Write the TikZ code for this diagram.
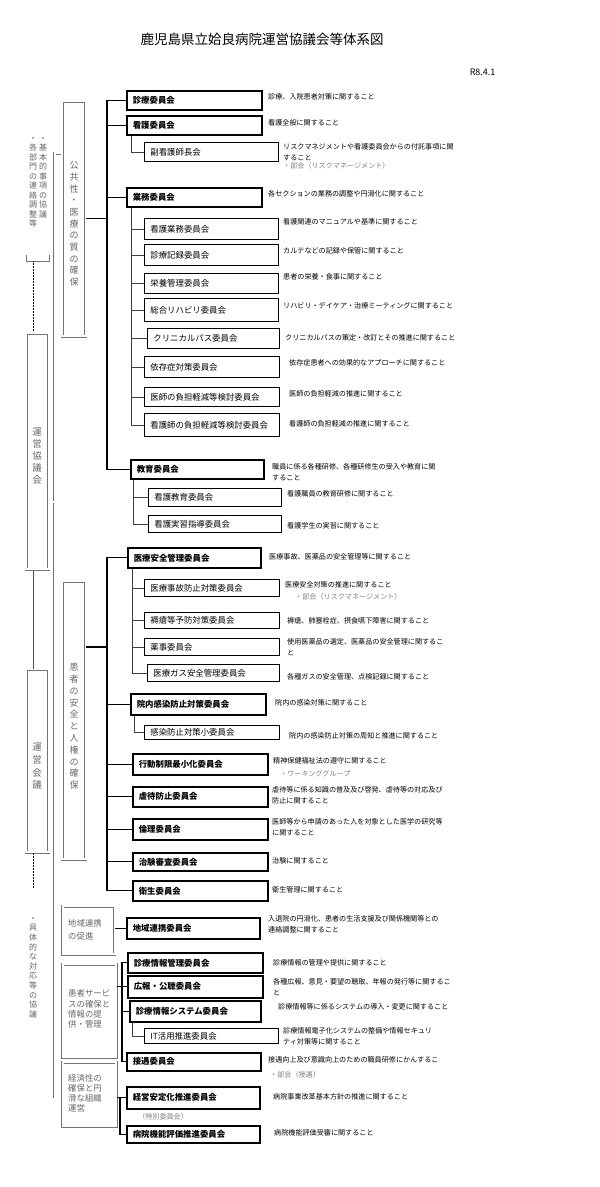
\documentclass[tikz,border=0pt]{standalone}
\usepackage{fontspec}
\setmainfont{Noto Sans CJK JP}
\newcommand\myvs{\rule[-0.12em]{0pt}{1em}}
\newcommand\myvtext[1]{\vbox{\myvtextA#1\relax}}
\def\myvtextA#1{\ifx#1\relax\else\hbox to 1em{\hss\myvs#1\hss}\expandafter\myvtextA\fi}
\newcommand\lab{\fontsize{8.4}{10}\selectfont}
\newcommand\bx[7]{\node[#1, minimum width=#5pt-#3pt, minimum height=#6pt-#4pt] (#2) at (#3,#4) {\makebox[\dimexpr#5pt-#3pt-12pt\relax][l]{#7}};}
\newcommand\ds[4]{\node[desc] (#1) at (#2,#3-3.5) {\myvs#4};}
\newcommand\nt[4]{\node[note] (#1) at (#2,#3-3.5) {\myvs#4};}
\tikzset{
 bbox/.style={draw, line width=1.6pt, inner xsep=6pt, inner ysep=0pt, font=\lab\bfseries, anchor=north west},
 tbox/.style={draw, line width=0.8pt, inner xsep=5pt, inner ysep=0pt, font=\lab, anchor=north west},
 desc/.style={anchor=north west, inner sep=0pt, align=left, font=\fontsize{7.1}{10.5}\selectfont},
 note/.style={desc, text=black!50},
 bus/.style={line width=1.3pt},
 sub/.style={line width=0.7pt, draw=black!75},
 dbl/.style={draw=black!55, line width=0.5pt, double=white, double distance=1.7pt},
 gbox/.style={dbl, anchor=north west, inner sep=0pt},
 vlab/.style={inner sep=0pt, anchor=north, text=black!60},
 hlab/.style={inner sep=0pt, anchor=north west, align=left, text=black!60},
}
\begin{document}
\begin{tikzpicture}[x=1pt,y=-1pt]
\useasboundingbox (0,0) rectangle (600,1187);
\fill[white] (0,0) rectangle (600,1187);

% title
\node[font=\fontsize{13.5}{13.5}\selectfont] (title) at (262,39) {鹿児島県立姶良病院運営協議会等体系図};
\node[anchor=east, font=\fontsize{9}{9}\selectfont] (date) at (499,72) {R8.4.1};

% ---------- left column ----------
\node[vlab, font=\fontsize{8}{9.5}\selectfont] (kA) at (43,134) {\myvtext{・基本的事項の協議}};
\node[vlab, font=\fontsize{8}{9.5}\selectfont] (kB) at (33,134) {\myvtext{・各部門の連絡調整等}};
\draw[black!55, line width=0.6pt] (26,255) -- (26,261) -- (49,261) -- (49,255);
\coordinate (brk) at (33,261);

\node[gbox, minimum width=22.5pt, minimum height=236pt] (unk) at (26,333) {};
\node[vlab, font=\fontsize{9.5}{12}\selectfont] (unkT) at (37,427.2) {\myvtext{運営協議会}};
\node[gbox, minimum width=22.5pt, minimum height=183pt] (unk2) at (26,669) {};
\node[vlab, font=\fontsize{9.5}{12.7}\selectfont] (unk2T) at (37,742.2) {\myvtext{運営会議}};
\coordinate (dotEnd) at (33,888);
\node[vlab, font=\fontsize{8}{9.6}\selectfont] (gutai) at (33,914) {\myvtext{・具体的な対応等の協議}};

\draw[densely dotted, line width=0.5pt] (brk) -- (brk |- unk.north);
\draw[line width=0.6pt, black!70] (unk.south -| brk) -- (unk2.north -| brk);
\draw[densely dotted, line width=0.5pt] (unk2.south -| brk) -- (dotEnd);

% ---------- spine ----------
\coordinate (spT) at (54.7,153.3);
\coordinate (spB) at (54.7,1097);
\coordinate (j1) at (54.7,502);
\coordinate (j2) at (54.7,652);
\coordinate (j3) at (54.7,937);
\coordinate (j4) at (54.7,1002);

% group boxes (positions)
\node[gbox, minimum width=23.5pt, minimum height=235pt] (gA) at (62,101) {};
\node[gbox, minimum width=23.5pt, minimum height=278pt] (gB) at (62,581) {};
\node[gbox, minimum width=52pt, minimum height=48pt] (gC) at (62.5,906) {};
\node[gbox, minimum width=53.5pt, minimum height=93pt] (gD) at (62.5,964) {};
\node[gbox, minimum width=53.5pt, minimum height=64pt] (gE) at (62.5,1062) {};

\draw[dbl] (gA.west |- spT) -- (spT) -- (spB) -- (gE.west |- spB);
\draw[dbl] (unk.east |- j1) -- ([xshift=-0.85pt]j1);
\draw[dbl] ([xshift=0.85pt]j2) -- (gB.west |- j2);
\draw[dbl] ([xshift=0.85pt]j3) -- (gC.west |- j3);
\draw[dbl] ([xshift=0.85pt]j4) -- (gD.west |- j4);
% redraw group boxes over branch ends
\node[gbox, minimum width=23.5pt, minimum height=235pt] (gA2) at (62,101) {};
\node[gbox, minimum width=23.5pt, minimum height=278pt] (gB2) at (62,581) {};
\node[gbox, minimum width=52pt, minimum height=48pt] (gC2) at (62.5,906) {};
\node[gbox, minimum width=53.5pt, minimum height=93pt] (gD2) at (62.5,964) {};
\node[gbox, minimum width=53.5pt, minimum height=64pt] (gE2) at (62.5,1062) {};
\node[gbox, minimum width=22.5pt, minimum height=236pt] (unkb) at (26,333) {};

\node[vlab, font=\fontsize{9}{11.7}\selectfont] (gAT) at (74,160.5) {\myvtext{公共性・医療の質の確保}};
\node[vlab, font=\fontsize{9}{11.8}\selectfont] (gBT) at (74,662.5) {\myvtext{患者の安全と人権の確保}};
\node[hlab, font=\fontsize{8.4}{13}\selectfont] (gCT) at (68,919) {\myvs 地域連携\\の促進};
\node[hlab, font=\fontsize{8.4}{10.4}\selectfont] (gDT) at (68,989) {\myvs 患者サービ\\スの確保と\\情報の提\\供・管理};
\node[hlab, font=\fontsize{8.4}{10}\selectfont] (gET) at (68,1074) {\myvs 経済性の\\確保と円\\滑な組織\\運営};

% ---------- group A ----------
\bx{bbox}{b1}{126}{90}{261}{109}{診療委員会}
\bx{bbox}{b2}{126}{115}{261}{134}{看護委員会}
\bx{tbox}{s21}{144}{142}{278}{161}{副看護師長会}
\bx{bbox}{b3}{126}{187}{261}{206}{業務委員会}
\bx{tbox}{s31}{144}{218}{278}{239}{看護業務委員会}
\bx{tbox}{s32}{144}{244}{278}{265}{診療記録委員会}
\bx{tbox}{s33}{144}{273}{278}{293}{栄養管理委員会}
\bx{tbox}{s34}{144}{298}{278}{321}{総合リハビリ委員会}
\bx{tbox}{s35}{147}{328}{279}{348}{クリニカルパス委員会}
\bx{tbox}{s36}{144}{356}{279}{377}{依存症対策委員会}
\bx{tbox}{s37}{144}{387}{279}{406}{医師の負担軽減等検討委員会}
\bx{tbox}{s38}{144}{413}{279}{436}{看護師の負担軽減等検討委員会}
\bx{bbox}{b4}{130}{459}{263}{478}{教育委員会}
\bx{tbox}{s41}{148}{488}{281}{506}{看護教育委員会}
\bx{tbox}{s42}{148}{515}{281}{532}{看護実習指導委員会}

% ---------- group B ----------
\bx{bbox}{b5}{127}{547}{260}{567}{医療安全管理委員会}
\bx{tbox}{s51}{144}{579}{279}{596}{医療事故防止対策委員会}
\bx{tbox}{s52}{144}{612}{279}{628}{褥瘡等予防対策委員会}
\bx{tbox}{s53}{144}{638}{279}{655}{薬事委員会}
\bx{tbox}{s54}{147}{664}{279}{681}{医療ガス安全管理委員会}
\bx{bbox}{b6}{130}{693}{265}{714}{院内感染防止対策委員会}
\bx{tbox}{s61}{144}{725}{279}{739}{感染防止対策小委員会}
\bx{bbox}{b7}{132}{753}{267}{774}{行動制限最小化委員会}
\bx{bbox}{b8}{132}{786}{267}{806}{虐待防止委員会}
\bx{bbox}{b9}{132}{818}{267}{839}{倫理委員会}
\bx{bbox}{b10}{132}{852}{267}{870}{治験審査委員会}
\bx{bbox}{b11}{132}{880}{267}{900}{衛生委員会}

% ---------- group C, D, E ----------
\bx{bbox}{b12}{126}{917}{259}{938}{地域連携委員会}
\bx{bbox}{b13}{127}{952}{262}{972}{診療情報管理委員会}
\bx{bbox}{b14}{127}{975}{262}{997}{広報・公聴委員会}
\bx{bbox}{b15}{129}{1000}{260}{1021}{診療情報システム委員会}
\bx{tbox}{s151}{144}{1028}{278}{1043}{IT活用推進委員会}
\bx{bbox}{b16}{126}{1052}{260}{1070}{接遇委員会}
\bx{bbox}{b17}{126}{1086}{259}{1108}{経営安定化推進委員会}
\bx{bbox}{b18}{126}{1125}{259}{1142}{病院機能評価推進委員会}

% ---------- buses ----------
\coordinate (busA) at (107,0);
\draw[bus] (b1.west) -| (busA |- b4.west) -- (b4.west);
\foreach \n in {b2,b3} \draw[bus] (busA |- \n.west) -- (\n.west);
\draw[bus] (gA.east) -- (busA |- gA.east);

\draw[bus] (b5.west) -| (busA |- b11.west) -- (b11.west);
\foreach \n in {b6,b7,b8,b9,b10} \draw[bus] (busA |- \n.west) -- (\n.west);
\draw[bus] (gB.east |- s53.west) -- (busA |- s53.west);

\draw[bus] (gC.east |- b12.west) -- (b12.west);

\coordinate (busD) at (122,0);
\draw[bus] (b13.west) -| (busD |- b16.west) -- (b16.west);
\draw[bus] (busD |- b15.west) -- (b15.west);
\draw[bus] (gD.east |- b14.west) -- (b14.west);

\coordinate (busE) at (120,0);
\draw[bus] (gE.east |- b17.west) -- (b17.west);
\draw[bus] (busE |- b17.west) |- (b18.west);

% ---------- sub buses ----------
\draw[sub] ([xshift=5pt]b2.south west) |- (s21.west);
\coordinate (a2) at ([xshift=5pt]b3.south west);
\draw[sub] (a2) |- (s38.west);
\foreach \n in {s31,s32,s33,s34,s35,s36,s37} \draw[sub] (a2 |- \n.west) -- (\n.west);
\coordinate (a3) at ([xshift=3pt]b4.south west);
\draw[sub] (a3) |- (s42.west);
\draw[sub] (a3 |- s41.west) -- (s41.west);
\coordinate (c1) at ([xshift=5pt]b5.south west);
\draw[sub] (c1) |- (s54.west);
\foreach \n in {s51,s52,s53} \draw[sub] (c1 |- \n.west) -- (\n.west);
\draw[sub] ([xshift=4pt]b6.south west) |- (s61.west);
\draw[sub] ([xshift=3pt]b15.south west) |- (s151.west);

% ---------- descriptions ----------
\ds{d1}{268}{97}{診療、入院患者対策に関すること}
\ds{d2}{268}{123}{看護全般に関すること}
\ds{d21}{283}{147}{リスクマネジメントや看護委員会からの付託事項に関\\すること}
\nt{n21}{283}{166}{・部会（リスクマネージメント）}
\ds{d3}{268}{194}{各セクションの業務の調整や円滑化に関すること}
\ds{d31}{283}{222}{看護関連のマニュアルや基準に関すること}
\ds{d32}{283}{251}{カルテなどの記録や保管に関すること}
\ds{d33}{283}{277}{患者の栄養・食事に関すること}
\ds{d34}{283}{306}{リハビリ・デイケア・治療ミーティングに関すること}
\ds{d35}{285}{338}{クリニカルパスの策定・改訂とその推進に関すること}
\ds{d36}{289}{363}{依存症患者への効果的なアプローチに関すること}
\ds{d37}{289}{394}{医師の負担軽減の推進に関すること}
\ds{d38}{289}{424}{看護師の負担軽減の推進に関すること}
\ds{d4}{272}{467}{職員に係る各種研修、各種研修生の受入や教育に関\\すること}
\ds{d41}{287}{494}{看護職員の教育研修に関すること}
\ds{d42}{287}{526}{看護学生の実習に関すること}
\ds{d5}{269}{557}{医療事故、医薬品の安全管理等に関すること}
\ds{d51}{285}{585}{医療安全対策の推進に関すること}
\nt{n51}{295}{597}{・部会（リスクマネージメント）}
\ds{d52}{287}{621}{褥瘡、肺塞栓症、摂食嚥下障害に関すること}
\ds{d53}{287}{642}{使用医薬品の選定、医薬品の安全管理に関するこ\\と}
\ds{d54}{287}{677}{各種ガスの安全管理、点検記録に関すること}
\ds{d6}{275}{703}{院内の感染対策に関すること}
\ds{d61}{289}{736}{院内の感染防止対策の周知と推進に関すること}
\ds{d7}{273}{761}{精神保健福祉法の遵守に関すること}
\nt{n7}{280}{774}{・ワーキンググループ}
\ds{d8}{272}{790}{虐待等に係る知識の普及及び啓発、虐待等の対応及び\\防止に関すること}
\ds{d9}{272}{822}{医師等から申請のあった人を対象とした医学の研究等\\に関すること}
\ds{d10}{272}{861}{治験に関すること}
\ds{d11}{272}{890}{衛生管理に関すること}
\ds{d12}{268}{919}{入退院の円滑化、患者の生活支援及び関係機関等との\\連絡調整に関すること}
\ds{d13}{273}{963}{診療情報の管理や提供に関すること}
\ds{d14}{273}{982}{各種広報、意見・要望の聴取、年報の発行等に関するこ\\と}
\ds{d15}{278}{1007}{診療情報等に係るシステムの導入・変更に関すること}
\ds{d151}{283}{1031}{診療情報電子化システムの整備や情報セキュリ\\ティ対策等に関すること}
\ds{d16}{268}{1060}{接遇向上及び意識向上のための職員研修にかんするこ}
\nt{n16}{270}{1075}{・部会（接遇）}
\ds{d17}{273}{1097}{病院事業改革基本方針の推進に関すること}
\nt{n18}{138}{1117}{（特別委員会）}
\ds{d18}{274}{1133}{病院機能評価受審に関すること}
\end{tikzpicture}
\end{document}
